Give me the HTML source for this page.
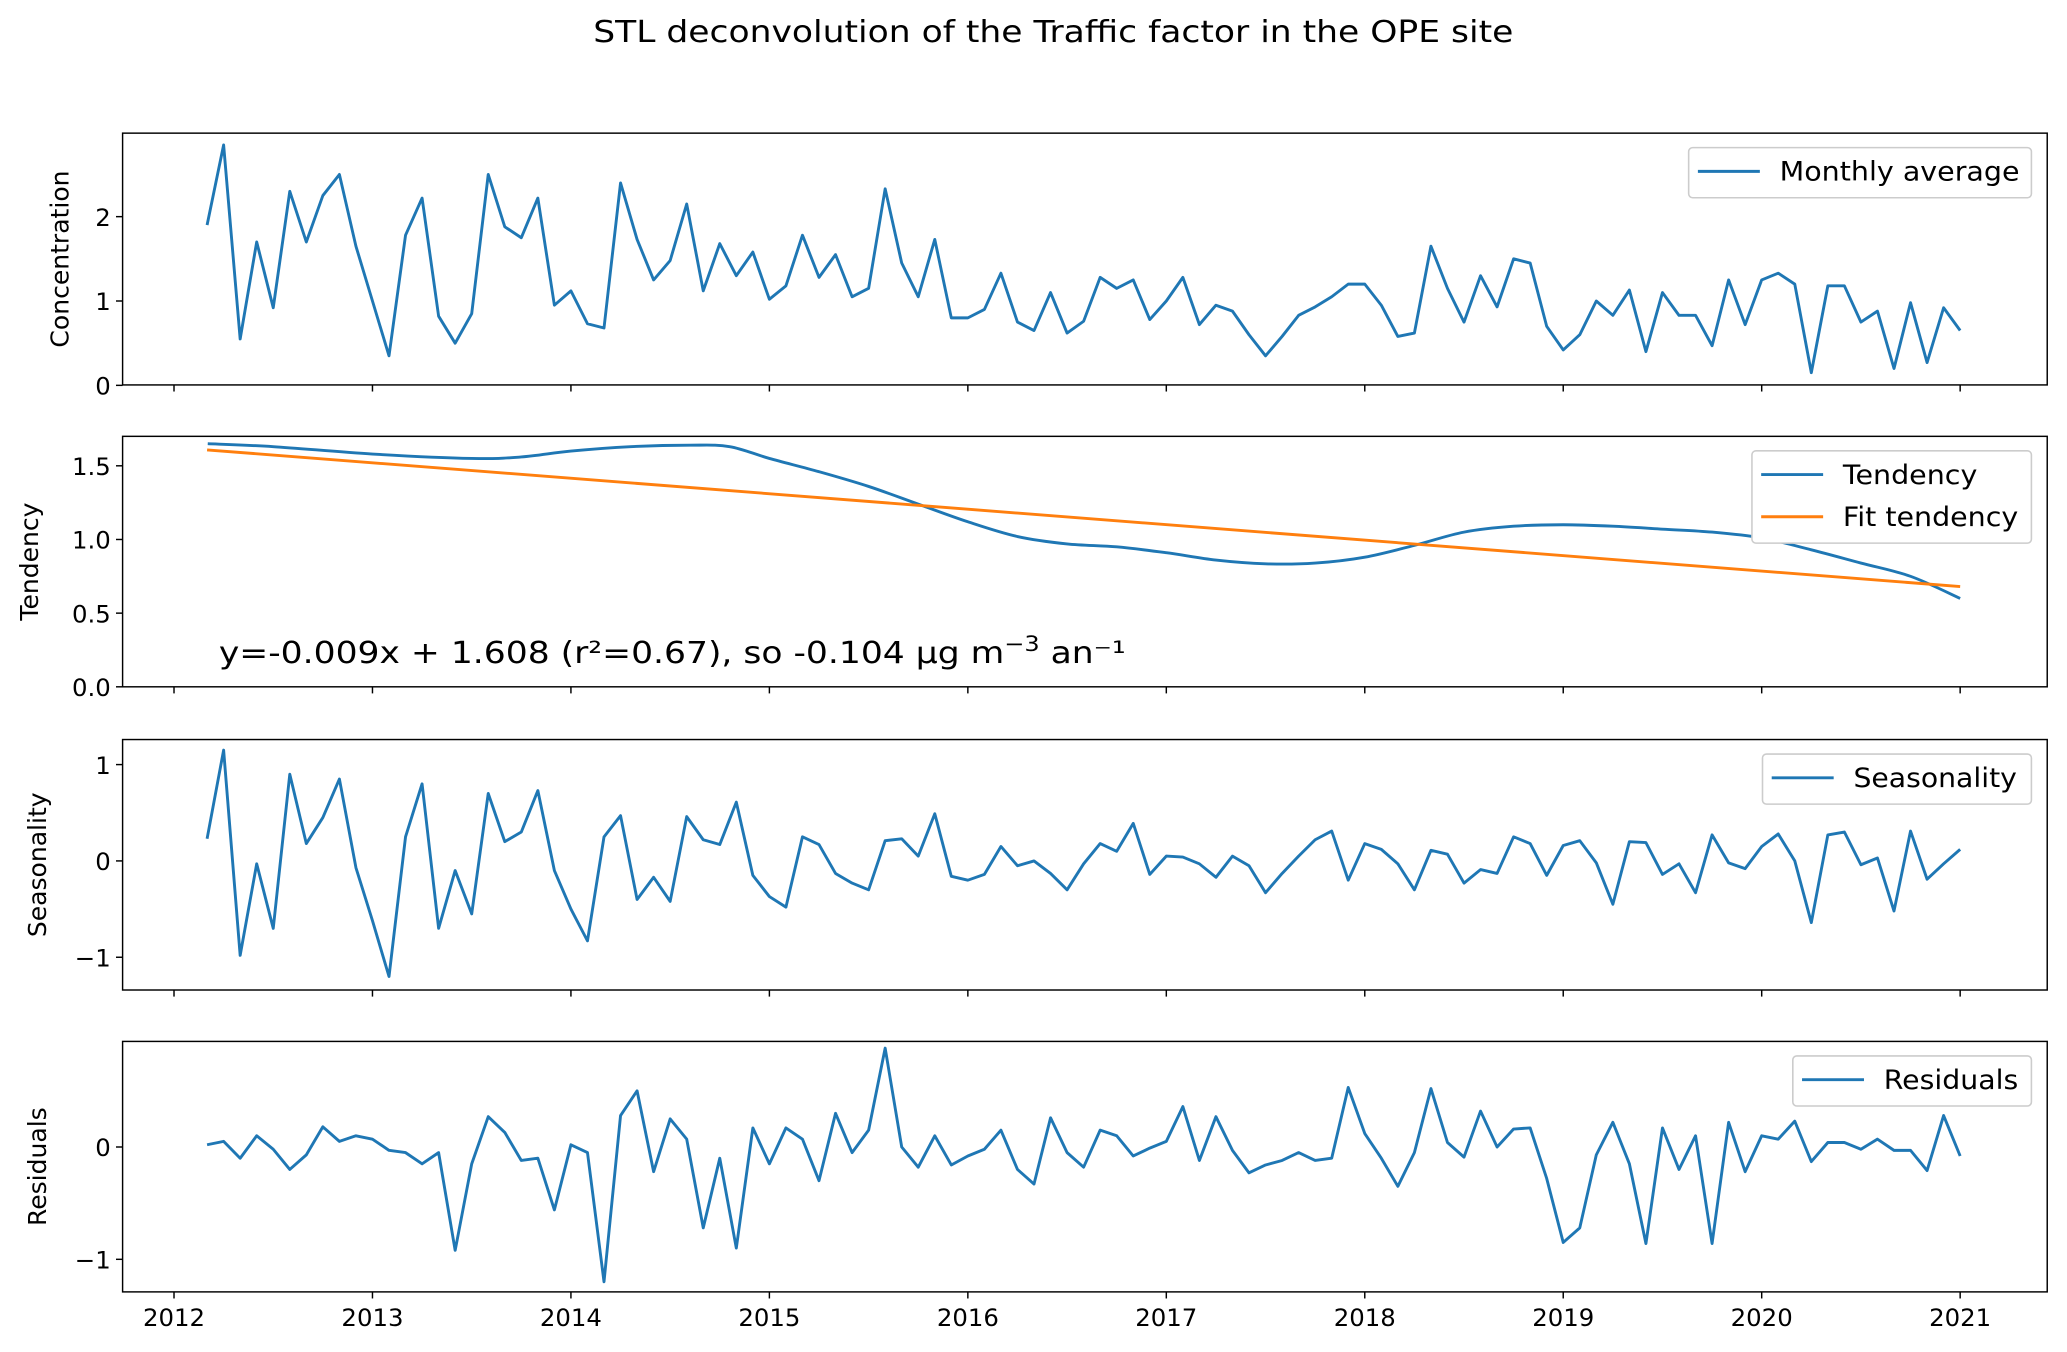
<!DOCTYPE html>
<html><head><meta charset="utf-8"><style>
html,body{margin:0;padding:0;background:#fff}
svg{display:block;font-family:"DejaVu Sans","Liberation Sans",sans-serif}
</style></head><body>
<svg id="chart" width="2067" height="1352" viewBox="0 0 1568 1025.6" preserveAspectRatio="none" xmlns="http://www.w3.org/2000/svg">
<text x="450" y="32" font-size="23" textLength="698" lengthAdjust="spacingAndGlyphs">STL deconvolution of the Traffic factor in the OPE site</text>
</svg>
<script>
const concentration=[1.9,2.85,0.55,1.7,0.92,2.3,1.7,2.25,2.5,1.65,
1.0,0.35,1.78,2.22,0.82,0.5,0.85,2.5,1.88,1.75,
2.22,0.95,1.12,0.73,0.68,2.4,1.73,1.25,1.48,2.15,
1.12,1.68,1.3,1.58,1.02,1.18,1.78,1.28,1.55,1.05,
1.15,2.33,1.45,1.05,1.73,0.8,0.8,0.9,1.33,0.75,
0.65,1.1,0.62,0.76,1.28,1.15,1.25,0.78,1.0,1.28,
0.72,0.95,0.88,0.6,0.35,0.58,0.83,0.93,1.05,1.2,
1.2,0.95,0.58,0.62,1.65,1.15,0.75,1.3,0.93,1.5,
1.45,0.7,0.42,0.6,1.0,0.83,1.13,0.4,1.1,0.83,
0.83,0.47,1.25,0.72,1.25,1.33,1.2,0.15,1.18,1.18,
0.75,0.88,0.2,0.98,0.27,0.92,0.65];
const seasonality=[0.23,1.15,-0.98,-0.03,-0.7,0.9,0.18,0.45,0.85,-0.07,
-0.62,-1.2,0.25,0.8,-0.7,-0.1,-0.55,0.7,0.2,0.3,
0.73,-0.1,-0.5,-0.83,0.25,0.47,-0.4,-0.17,-0.42,0.46,
0.22,0.17,0.61,-0.15,-0.37,-0.48,0.25,0.17,-0.13,-0.23,
-0.3,0.21,0.23,0.05,0.49,-0.16,-0.2,-0.14,0.15,-0.05,
0.0,-0.13,-0.3,-0.03,0.18,0.1,0.39,-0.14,0.05,0.04,
-0.03,-0.17,0.05,-0.05,-0.33,-0.13,0.05,0.22,0.31,-0.2,
0.18,0.12,-0.03,-0.3,0.11,0.07,-0.23,-0.09,-0.13,0.25,
0.18,-0.15,0.16,0.21,-0.02,-0.45,0.2,0.19,-0.14,-0.03,
-0.33,0.27,-0.02,-0.08,0.15,0.28,0.0,-0.64,0.27,0.3,
-0.04,0.03,-0.52,0.31,-0.19,-0.03,0.12];
const residuals=[0.02,0.05,-0.1,0.1,-0.02,-0.2,-0.07,0.18,0.05,0.1,
0.07,-0.03,-0.05,-0.15,-0.05,-0.92,-0.15,0.27,0.13,-0.12,
-0.1,-0.56,0.02,-0.05,-1.2,0.28,0.5,-0.22,0.25,0.07,
-0.72,-0.1,-0.9,0.17,-0.15,0.17,0.07,-0.3,0.3,-0.05,
0.15,0.88,0.0,-0.18,0.1,-0.16,-0.08,-0.02,0.15,-0.2,
-0.33,0.26,-0.05,-0.18,0.15,0.1,-0.08,-0.01,0.05,0.36,
-0.12,0.27,-0.03,-0.23,-0.16,-0.12,-0.05,-0.12,-0.1,0.53,
0.12,-0.1,-0.35,-0.05,0.52,0.04,-0.09,0.32,0.0,0.16,
0.17,-0.28,-0.85,-0.72,-0.07,0.22,-0.15,-0.86,0.17,-0.2,
0.1,-0.86,0.22,-0.22,0.1,0.07,0.23,-0.13,0.04,0.04,
-0.02,0.07,-0.03,-0.03,-0.21,0.28,-0.08];
const tendDates=[2012.17,2012.5,2013,2013.5,2013.75,2014,2014.3,2014.6,2014.8,2015,2015.25,2015.5,2015.75,2016,2016.25,2016.5,2016.75,2017,2017.25,2017.5,2017.75,2018,2018.25,2018.5,2018.75,2019,2019.25,2019.5,2019.75,2020,2020.25,2020.5,2020.75,2021];
const tendVals=[1.65,1.63,1.58,1.55,1.56,1.60,1.63,1.64,1.63,1.55,1.46,1.36,1.24,1.12,1.02,0.97,0.95,0.91,0.86,0.835,0.84,0.88,0.96,1.05,1.09,1.10,1.09,1.07,1.05,1.01,0.93,0.84,0.75,0.60];
const fitSlope=[-0.00875];
const fitIntercept=[1.608];
const yearTicks=[2012,2013,2014,2015,2016,2017,2018,2019,2020,2021];
const startYear=2012+2/12;

const svg=document.getElementById('chart');
const NS='http://www.w3.org/2000/svg';
const X0=93,X1=1553;
function xs(yr){return 132+(yr-2012)*150.55;}
function mk(tag,attrs,parent){const e=document.createElementNS(NS,tag);for(const k in attrs)e.setAttribute(k,attrs[k]);(parent||svg).appendChild(e);return e;}

const panels=[
 {name:'concentration',top:101,bot:292,min:0.005,max:2.99,ticks:[0,1,2],lab:['0','1','2'],ylabel:'Concentration',lx:45},
 {name:'tendency',top:331,bot:521,min:0,max:1.70,ticks:[0,0.5,1,1.5],lab:['0.0','0.5','1.0','1.5'],ylabel:'Tendency',lx:22},
 {name:'seasonality',top:561,bot:751,min:-1.34,max:1.26,ticks:[-1,0,1],lab:['\u22121','0','1'],ylabel:'Seasonality',lx:28},
 {name:'residuals',top:790,bot:980,min:-1.29,max:0.94,ticks:[-1,0],lab:['\u22121','0'],ylabel:'Residuals',lx:28}
];
panels.forEach(p=>{p.y=v=>p.bot-(v-p.min)/(p.max-p.min)*(p.bot-p.top);});

function line(vals,p,color,name){
  const pts=vals.map((v,i)=>xs(startYear+i/12).toFixed(2)+','+p.y(v).toFixed(2)).join(' ');
  const l=mk('polyline',{points:pts,fill:'none',stroke:color,'stroke-width':2.2,'stroke-linejoin':'round'});
  
  
}
function legend(p,items,w){
  const g=mk('g',{});
  
  
  const h=items.length*32+6;
  const bx=X1-12-w;
  mk('rect',{x:bx,y:p.top+11,width:w,height:h,rx:3,fill:'#fff',stroke:'#ccc','stroke-width':1.2},g);
  items.forEach((it,k)=>{
    const cy=p.top+11+18+k*32;
    const e=mk('g',{},g);
    
    
    mk('line',{x1:bx+7,x2:bx+54,y1:cy,y2:cy,stroke:it[0],'stroke-width':2.2},e);
    const t=mk('text',{x:bx+69,y:cy+7,'font-size':20.5,textLength:it[2],lengthAdjust:'spacingAndGlyphs'},e);t.textContent=it[1];
  });
}

panels.forEach((p,pi)=>{
  const g=mk('g',{});
  
  
  mk('rect',{x:X0,y:p.top,width:X1-X0,height:p.bot-p.top,fill:'none',stroke:'#000','stroke-width':1.1},g);
  yearTicks.forEach(yr=>{
    mk('line',{x1:xs(yr),x2:xs(yr),y1:p.bot,y2:p.bot+5,stroke:'#000','stroke-width':1.1},g);
    if(pi===3){const t=mk('text',{x:xs(yr),y:p.bot+26,'font-size':18.5,'text-anchor':'middle'},g);
      t.textContent=yr;}
  });
  p.ticks.forEach((v,k)=>{
    mk('line',{x1:X0-5,x2:X0,y1:p.y(v),y2:p.y(v),stroke:'#000','stroke-width':1.1},g);
    const t=mk('text',{x:X0-9,y:p.y(v)+7,'font-size':18.5,'text-anchor':'end'},g);
    t.textContent=p.lab[k];
  });
  const cy=(p.top+p.bot)/2;
  const yl=mk('text',{x:0,y:0,'font-size':19,'text-anchor':'middle',transform:`translate(${p.lx+7},${cy}) rotate(-90)`},g);
  yl.textContent=p.ylabel;
});

line(concentration,panels[0],'#1f77b4','monthly-average-line');
line(seasonality,panels[2],'#1f77b4','seasonality-line');
line(residuals,panels[3],'#1f77b4','residuals-line');
{const p=panels[1];
 const P=tendDates.map((t,i)=>[xs(t),p.y(tendVals[i])]);
 let d='M'+P[0][0]+','+P[0][1];
 for(let i=0;i<P.length-1;i++){
   const p0=P[Math.max(i-1,0)],p1=P[i],p2=P[i+1],p3=P[Math.min(i+2,P.length-1)];
   const c1=[p1[0]+(p2[0]-p0[0])/6,p1[1]+(p2[1]-p0[1])/6];
   const c2=[p2[0]-(p3[0]-p1[0])/6,p2[1]-(p3[1]-p1[1])/6];
   d+=` C${c1[0].toFixed(2)},${c1[1].toFixed(2)} ${c2[0].toFixed(2)},${c2[1].toFixed(2)} ${p2[0].toFixed(2)},${p2[1].toFixed(2)}`;
 }
 const l=mk('path',{d:d,fill:'none',stroke:'#1f77b4','stroke-width':2.2});
 
 const n=concentration.length-1;
 const f=mk('line',{x1:xs(startYear),y1:p.y(fitIntercept[0]),x2:xs(startYear+n/12),y2:p.y(fitIntercept[0]+fitSlope[0]*n),stroke:'#ff7f0e','stroke-width':2.2});
 
 const t=mk('text',{x:166,y:503,'font-size':23,textLength:688,lengthAdjust:'spacingAndGlyphs'});
 
 t.innerHTML='y=-0.009x + 1.608 (r²=0.67), so -0.104 µg m<tspan font-size="16" dy="-9">−3</tspan><tspan dy="9"> an⁻¹</tspan>';
}
legend(panels[0],[['#1f77b4','Monthly average',182]],260);
legend(panels[1],[['#1f77b4','Tendency',102],['#ff7f0e','Fit tendency',133]],212);
legend(panels[2],[['#1f77b4','Seasonality',124]],204);
legend(panels[3],[['#1f77b4','Residuals',102]],181);
</script>
</body></html>
